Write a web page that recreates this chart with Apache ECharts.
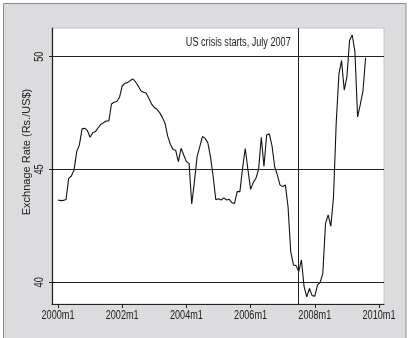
<!DOCTYPE html>
<html>
<head>
<meta charset="utf-8">
<script src="https://cdn.jsdelivr.net/npm/echarts@6/dist/echarts.min.js"></script>
<style>
  html, body { margin: 0; padding: 0; background: #ffffff; }
  #chart { width: 408px; height: 338px; }
</style>
</head>
<body>
<div id="chart"></div>
<script>
// Monthly rupee / dollar rate, January 2000 onwards (month index 0 = 2000m1)
const rateValues = [
  43.65, 43.62, 43.63, 43.67, 44.61, 44.71, 44.98, 45.79, 46.09, 46.80, 46.83, 46.72,
  46.43, 46.63, 46.68, 46.85, 47.00, 47.07, 47.15, 47.15, 47.90, 47.98, 48.01, 48.20,
  48.70, 48.82, 48.85, 48.94, 49.01, 48.88, 48.70, 48.49, 48.42, 48.38, 48.15, 47.90,
  47.75, 47.67, 47.52, 47.31, 47.05, 46.48, 46.12, 45.89, 45.85, 45.35, 45.94, 45.64,
  45.35, 45.27, 43.47, 44.45, 45.57, 46.01, 46.46, 46.38, 46.19, 45.57, 44.69, 43.66,
  43.70, 43.65, 43.74, 43.65, 43.68, 43.53, 43.50, 44.02, 44.02, 45.05, 45.93, 45.00,
  44.12, 44.42, 44.61, 45.01, 46.43, 45.13, 46.53, 46.58, 46.05, 45.12, 44.76, 44.31,
  44.24, 44.31, 43.35, 41.36, 40.77, 40.74, 40.47, 40.99, 39.81, 39.36, 39.73, 39.41,
  39.39, 39.88, 40.00, 40.40, 42.60, 42.99, 42.48, 43.79, 47.05, 49.20, 49.83, 48.52,
  49.10, 50.72, 50.96, 50.22, 47.33, 47.87, 48.47, 49.95
];

// Axis ticks
const xTickMonths = [0, 24, 48, 72, 96, 120];
const xTickLabels = ['2000m1', '2002m1', '2004m1', '2006m1', '2008m1', '2010m1'];
const yTickValues = [40, 45, 50];
const yTickLabels = ['40', '45', '50'];

// Reference line: start of the US crisis (2007m7)
const crisisMonth = 90;
const crisisText = 'US crisis starts, July 2007';
const yTitle = 'Exchnage Rate (Rs./US$)';

// Condensed look: a regular sans squeezed horizontally
const FONT = "'Liberation Sans', Arial, sans-serif";
const SQUEEZE = 0.76;
const INK = '#222';

const seriesData = rateValues.map((v, i) => [i, v]);

const chart = echarts.init(document.getElementById('chart'), null, { renderer: 'canvas' });

const frame = {
  type: 'rect', z: -10, silent: true,
  shape: { x: 3.5, y: 3.5, width: 402.5, height: 345 },
  style: { fill: '#dcdcde', stroke: '#8c8c8c', lineWidth: 1 }
};

const option = {
  animation: false,
  backgroundColor: '#ffffff',
  textStyle: { fontFamily: FONT },
  grid: {
    left: 52, right: 24, top: 28, bottom: 34,
    show: true,
    backgroundColor: '#ffffff',
    borderColor: '#c4c4c4',
    borderWidth: 1
  },
  xAxis: {
    type: 'value',
    min: -2.24,
    max: 121.87,
    splitLine: { show: false },
    axisLine: { show: true, onZero: false, lineStyle: { color: INK, width: 1.2 } },
    axisTick: { show: true, length: 4, lineStyle: { color: INK }, customValues: xTickMonths },
    axisLabel: { show: false }
  },
  yAxis: {
    type: 'value',
    min: 39.04,
    max: 51.27,
    splitLine: { show: false },
    axisLine: { show: true, onZero: false, lineStyle: { color: INK, width: 1.2 } },
    axisTick: { show: true, length: 3, lineStyle: { color: INK }, customValues: yTickValues },
    axisLabel: { show: false }
  },
  graphic: [frame],
  series: [{
    type: 'line',
    data: seriesData,
    showSymbol: false,
    lineStyle: { color: '#111', width: 1.1 },
    z: 3,
    markLine: {
      silent: true,
      symbol: ['none', 'none'],
      label: { show: false },
      lineStyle: { color: INK, type: 'solid', width: 1 },
      data: yTickValues.map(v => ({ yAxis: v })).concat([{ xAxis: crisisMonth }])
    }
  }]
};

chart.setOption(option);

// Text set in a squeezed face, anchored to positions taken from the axes
function label(text, x, y, opts) {
  return Object.assign({
    type: 'text', silent: true, x: x, y: y, scaleX: SQUEEZE,
    style: {
      text: text, fill: INK, font: '12px ' + FONT,
      align: opts.align || 'center', verticalAlign: 'middle'
    }
  }, opts.extra || {});
}

const gridBottom = chart.convertToPixel({ yAxisIndex: 0 }, 39.04);
const gridLeft = chart.convertToPixel({ xAxisIndex: 0 }, -2.24);
const texts = [frame];

xTickMonths.forEach((m, k) => {
  const px = chart.convertToPixel({ xAxisIndex: 0 }, m);
  texts.push(label(xTickLabels[k], px, gridBottom + 11.5, {}));
});
yTickValues.forEach((v, k) => {
  const py = chart.convertToPixel({ yAxisIndex: 0 }, v);
  texts.push(label(yTickLabels[k], gridLeft - 12, py, { extra: { rotation: Math.PI / 2 } }));
});

const lineX = chart.convertToPixel({ xAxisIndex: 0 }, crisisMonth);
texts.push(label(crisisText, lineX - 8, 43, { align: 'right' }));
texts.push({
  type: 'text', silent: true, x: 27, y: 152, rotation: Math.PI / 2,
  style: {
    text: yTitle, fill: INK, font: '11px ' + FONT,
    align: 'center', verticalAlign: 'middle'
  }
});

chart.setOption({ graphic: texts }, { replaceMerge: ['graphic'] });
</script>
</body>
</html>
